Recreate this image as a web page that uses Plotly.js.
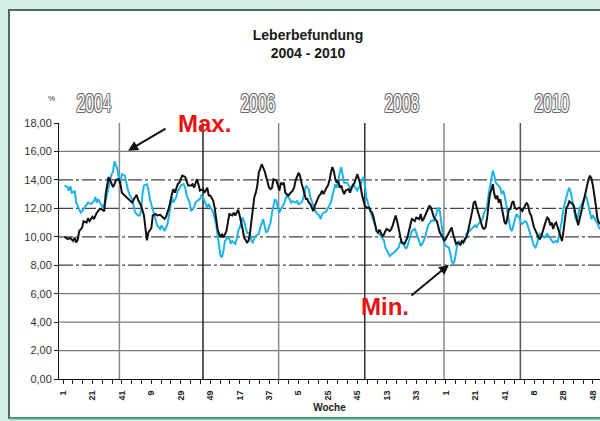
<!DOCTYPE html>
<html>
<head>
<meta charset="utf-8">
<script src="https://cdn.plot.ly/plotly-3.0.1.min.js"></script>
<style>
  html, body { margin: 0; padding: 0; overflow: hidden; background: #d3efe3; }
  #chart { width: 600px; height: 421px; }
</style>
</head>
<body>
<div id="chart"></div>
<script>
// ---- data (week index 0 = first week of 2004) ----
const tickPositions = [0,20,40,60,80,100,120,140,160,180,200,220,240,260,280,300,320,340,360];
const tickLabels = ["1","21","41","9","29","49","17","37","5","25","45","13","33","1","21","41","8","28","48"];
const yTicks = [0,2,4,6,8,10,12,14,16,18];

const blackWeeks = [1,3,5,7,8,9,10,11,13,14,16,17,18,20,21,23,25,26,28,29,31,32,34,35,36,38,39,40,42,43,45,47,48,50,51,53,55,56,57,58,60,61,63,64,66,68,69,70,72,74,75,76,78,79,80,81,83,84,85,87,88,89,91,92,93,95,96,98,99,100,102,103,104,105,106,107,108,109,111,112,113,115,116,117,119,120,121,122,123,125,126,127,128,129,130,131,132,133,134,135,137,138,139,140,141,142,143,145,146,147,148,149,150,151,153,154,156,157,158,160,161,162,163,164,165,166,167,168,169,170,171,173,174,175,176,177,178,179,180,181,182,183,184,185,186,187,188,189,190,191,192,194,195,196,198,199,200,201,202,203,204,205,206,208,209,210,211,212,213,214,215,217,218,219,220,222,223,224,225,226,227,228,229,230,232,233,234,235,236,237,238,239,240,242,243,244,245,246,247,249,250,251,252,254,255,256,258,259,260,261,263,264,265,266,267,268,270,271,272,273,274,275,276,277,278,279,280,281,282,283,284,285,286,287,288,289,290,291,292,293,294,295,296,297,298,299,300,301,302,303,304,305,306,307,308,310,311,312,314,315,316,317,318,319,320,322,323,324,325,326,327,328,329,330,331,332,333,334,335,336,337,338,339,340,341,342,343,344,345,347,348,349,350,351,352,353,354,355,356,357,358,359,360,361,362,363,364,365];
const blackValues = [10.0,9.85,9.9,9.7,9.95,9.6,9.8,10.4,10.65,11.1,11.0,11.3,11.1,11.4,11.25,11.7,11.95,11.95,11.8,13.0,14.2,14.0,13.5,13.7,14.0,14.05,13.7,13.1,12.9,12.8,12.65,12.4,12.6,12.95,12.6,12.2,11.5,10.65,9.75,10.3,10.6,11.5,11.6,11.5,11.55,11.35,11.25,11.4,12.05,13.0,13.35,13.1,13.7,13.8,14.05,14.3,14.2,13.8,13.6,13.6,13.7,13.45,14.05,13.7,13.25,13.35,13.1,13.45,12.9,12.9,12.55,12.05,11.25,10.55,10.2,9.95,10.2,9.95,10.4,11.0,11.6,11.5,11.7,11.5,11.9,11.5,11.1,10.55,9.95,9.6,9.7,10.2,11.1,11.8,12.8,13.1,13.6,14.5,14.9,15.1,14.6,14.2,13.8,13.45,13.35,13.45,14.05,13.95,13.6,13.25,13.8,13.7,13.8,13.1,12.9,13.0,13.25,13.45,13.95,14.5,14.3,13.8,13.45,13.0,12.65,12.65,12.4,12.3,12.05,11.8,12.15,12.65,12.9,13.0,13.25,13.0,13.25,13.45,13.6,13.95,14.5,14.9,14.6,14.05,13.8,13.95,13.45,13.6,13.25,13.0,13.25,13.35,13.1,13.45,13.8,14.2,14.4,14.05,13.7,13.0,12.55,12.2,12.05,12.05,11.8,11.7,11.35,10.8,10.4,10.3,10.5,10.05,10.15,10.4,10.55,10.4,10.55,10.8,11.25,11.5,11.1,10.55,10.05,9.6,9.5,9.7,9.95,10.4,10.9,11.25,11.2,11.1,11.35,11.25,11.6,11.1,11.25,11.5,11.8,12.2,12.05,11.7,11.35,11.1,10.65,10.3,9.95,9.7,9.85,10.05,10.4,10.65,10.2,9.85,9.5,9.6,9.45,9.7,9.6,9.85,9.95,10.3,10.8,11.1,11.8,12.4,12.5,12.05,11.7,11.35,10.9,10.65,10.55,10.65,11.25,12.1,13.0,13.3,13.7,13.0,12.65,12.9,12.4,12.65,12.05,11.5,11.0,10.9,11.6,11.95,11.95,12.4,12.5,12.05,11.95,12.05,11.95,11.8,12.2,12.4,12.2,11.7,11.5,11.1,10.65,10.2,9.95,9.85,10.05,10.4,10.8,11.1,11.35,11.25,10.8,11.0,10.55,10.9,11.0,10.65,10.4,10.1,9.7,10.4,11.5,12.05,12.2,12.5,12.4,12.2,11.7,11.1,10.8,11.25,11.7,12.3,12.7,13.1,13.6,14.05,14.3,14.1,13.6,13.0,12.2,11.3,11.0,10.9];

const cyanWeeks = [1,3,4,5,6,8,9,11,12,14,16,17,19,21,22,23,24,26,27,28,29,31,33,34,35,37,38,39,40,42,43,44,45,47,49,51,52,53,54,55,57,58,59,61,63,64,66,67,69,70,71,72,73,74,75,77,78,79,80,82,83,84,86,87,89,90,91,93,94,95,97,98,99,101,102,104,105,106,107,108,109,110,112,113,114,115,117,118,119,121,122,123,124,125,127,128,129,130,131,133,134,136,137,138,139,141,142,143,144,145,146,147,148,150,151,152,154,155,156,158,159,160,162,163,164,165,167,168,170,171,172,174,175,176,178,179,180,182,183,184,185,186,187,188,189,190,191,192,193,195,196,197,199,200,201,203,204,205,206,208,209,210,211,212,213,214,216,217,218,219,221,222,223,225,226,228,229,230,231,232,233,234,235,236,237,239,240,242,243,244,246,247,248,250,251,252,254,255,256,257,258,259,260,262,263,264,265,266,267,268,269,270,271,273,274,276,277,278,280,281,282,284,285,286,288,289,290,291,292,293,294,295,297,298,299,300,301,302,303,304,305,306,307,308,310,311,312,314,315,316,317,318,319,320,321,322,323,324,326,327,329,330,331,332,333,335,336,337,338,339,340,341,342,343,344,345,346,347,348,349,350,351,352,353,354,355,356,357,358,359,360,361,362,363,364,365];
const cyanValues = [13.6,13.5,13.25,13.55,13.1,13.2,12.4,11.95,11.7,11.95,12.3,12.4,12.3,12.5,12.8,12.4,12.65,12.2,12.05,12.3,12.5,13.5,14.4,14.6,15.3,14.75,14.05,13.8,14.4,14.3,13.7,13.35,13.0,12.65,11.7,11.5,11.5,11.8,13.0,13.6,13.7,13.35,12.65,11.95,11.25,10.8,10.55,10.8,10.4,10.65,10.9,11.5,12.3,12.8,12.4,12.8,13.25,13.35,13.6,13.7,13.45,12.9,12.4,11.8,12.05,12.4,12.5,12.65,12.9,12.8,12.3,12.05,12.3,11.95,11.7,10.9,10.05,9.5,8.65,8.55,9.0,9.7,9.95,9.85,9.5,9.7,9.5,9.85,10.4,10.9,11.35,11.1,10.75,10.3,10.2,9.7,9.6,9.95,10.05,10.2,10.65,11.25,10.75,10.3,10.4,11.0,11.7,12.2,12.65,12.5,11.95,11.7,11.95,12.3,12.65,12.9,12.65,12.4,12.5,12.4,12.5,12.3,12.4,12.65,13.1,13.6,13.35,12.8,12.2,11.95,11.7,11.5,11.25,11.6,11.7,11.8,12.05,12.4,12.9,13.25,13.7,13.45,14.05,14.5,14.9,14.2,13.8,13.8,13.8,13.45,13.35,13.7,13.45,13.25,13.45,13.95,14.2,13.7,12.8,12.05,11.7,11.35,11.1,10.9,10.4,10.3,10.05,9.95,9.75,9.25,8.8,8.65,8.75,8.9,9.0,9.25,9.6,9.7,9.5,9.25,9.15,9.35,9.7,10.2,10.4,10.55,10.3,9.7,9.35,9.5,9.95,10.4,10.8,11.1,11.15,11.1,11.7,12.05,11.8,10.9,10.2,9.6,9.35,9.25,8.9,8.3,8.1,8.3,9.0,9.5,9.7,9.5,9.6,9.7,10.2,10.4,10.55,10.65,10.8,10.65,10.9,11.1,11.25,11.7,12.05,12.9,13.45,14.1,14.65,14.3,13.8,13.7,13.45,13.0,13.25,12.9,12.3,11.7,11.1,10.55,10.4,10.75,11.1,11.6,11.35,11.0,10.9,11.1,11.0,10.65,10.4,10.05,9.7,9.35,9.25,9.5,9.95,10.2,10.05,9.95,10.2,10.05,9.85,9.7,9.6,9.7,9.6,10.1,10.6,11.2,12.0,12.5,12.8,13.2,13.45,13.1,12.65,12.05,11.35,11.1,11.5,12.05,12.2,12.4,12.65,12.9,12.65,12.2,11.6,11.25,11.5,11.35,11.1,11.0,10.65,10.55];

const yearLabels = ["2004","2006","2008","2010"];
const titleLines = ["Leberbefundung", "2004 - 2010"];

// ---- layout geometry / styling (not data) ----
const M = {l: 59, r: 0, t: 123, b: 42};
const W = 600, H = 421;
const plotW = W - M.l - M.r, plotH = H - M.t - M.b;
const px2paperX = px => (px - M.l) / plotW;
const px2paperY = py => (H - M.b - py) / plotH;

const yearLabelX = [21, 132.5, 230, 332];
const yearSepLines = [
  {x: 38.3, top: 18.45, color: '#8a8a8a'},
  {x: 95.1, top: 18, color: '#222222'},
  {x: 146.5, top: 18.45, color: '#8a8a8a'},
  {x: 205.0, top: 18.45, color: '#333333'},
  {x: 258.8, top: 18.45, color: '#8a8a8a'},
  {x: 310.7, top: 18.45, color: '#555555'}
];

const shapes = [];
// white chart panel with dark frame
shapes.push({type: 'rect', xref: 'paper', yref: 'paper', layer: 'below',
  x0: px2paperX(9), x1: px2paperX(640), y0: px2paperY(418), y1: px2paperY(10),
  fillcolor: '#ffffff', line: {color: '#4f6860', width: 2}});
// bottom greenish edge
shapes.push({type: 'line', xref: 'paper', yref: 'paper', layer: 'below',
  x0: px2paperX(9), x1: px2paperX(640), y0: px2paperY(418.5), y1: px2paperY(418.5),
  line: {color: '#5aa889', width: 2}});
// horizontal gridlines
yTicks.filter(v => v > 0 && v < 18).forEach(v => {
  const dashed = (v >= 8 && v <= 14);
  shapes.push({type: 'line', xref: 'paper', yref: 'y', layer: 'below',
    x0: 0, x1: 1, y0: v, y1: v,
    line: {color: dashed ? '#444444' : '#7a7a7a', width: 1.3, dash: dashed ? '14px,3px,3px,3px' : 'solid'}});
});
// vertical year separator lines
yearSepLines.forEach(s => {
  shapes.push({type: 'line', xref: 'x', yref: 'y', layer: 'below',
    x0: s.x, x1: s.x, y0: 0, y1: s.top, line: {color: s.color, width: 1.5}});
});

const outline = '1px 0 0 #666, -1px 0 0 #666, 0 1px 0 #666, 0 -1px 0 #666, 1px 1px 0 #888, -1px -1px 0 #888, 1px -1px 0 #888, -1px 1px 0 #888';
const annotations = [];
yearLabels.forEach((t, i) => {
  annotations.push({text: t, x: yearLabelX[i], y: px2paperY(103), xref: 'x', yref: 'paper', showarrow: false,
    xanchor: 'center', yanchor: 'middle',
    font: {family: 'Liberation Sans, Arial, sans-serif', size: 26, color: '#ffffff', shadow: outline}});
});
annotations.push({text: '%', xref: 'paper', yref: 'paper', x: px2paperX(46), y: px2paperY(92),
  showarrow: false, font: {family: 'Liberation Sans, Arial, sans-serif', size: 8, color: '#333'}});
// Max / Min labels and arrows
annotations.push({text: '<b>Max.</b>', xref: 'x', yref: 'y', x: 95.8, y: 17.95, showarrow: false,
  xanchor: 'center', yanchor: 'middle', font: {family: 'Liberation Sans, Arial, sans-serif', size: 24, color: '#e81212'}});
annotations.push({text: '', xref: 'x', yref: 'y', x: 44.2, y: 16.05, axref: 'x', ayref: 'y', ax: 70.7, ay: 17.67,
  showarrow: true, arrowhead: 2, arrowsize: 1, arrowwidth: 2, arrowcolor: '#111'});
annotations.push({text: '<b>Min.</b>', xref: 'x', yref: 'y', x: 218.8, y: 5.08, showarrow: false,
  xanchor: 'center', yanchor: 'middle', font: {family: 'Liberation Sans, Arial, sans-serif', size: 24, color: '#e81212'}});
annotations.push({text: '', xref: 'x', yref: 'y', x: 262.2, y: 8.04, axref: 'x', ayref: 'y', ax: 235.7, ay: 5.79,
  showarrow: true, arrowhead: 2, arrowsize: 1, arrowwidth: 2, arrowcolor: '#111'});

const traces = [
  {x: cyanWeeks, y: cyanValues, type: 'scatter', mode: 'lines', name: 'Serie 2',
   line: {color: '#1db4e9', width: 2}, hoverinfo: 'skip'},
  {x: blackWeeks, y: blackValues, type: 'scatter', mode: 'lines', name: 'Serie 1',
   line: {color: '#111111', width: 2}, hoverinfo: 'skip'}
];

const layout = {
  width: W, height: H,
  margin: M,
  paper_bgcolor: '#d3efe3',
  plot_bgcolor: 'rgba(0,0,0,0)',
  showlegend: false,
  separators: ',.',
  font: {family: 'Liberation Sans, Arial, sans-serif', color: '#222'},
  title: {text: '<b>' + titleLines.join('<br>') + '</b>', xref: 'container', yref: 'container',
    x: 308 / W, xanchor: 'center', y: 1 - 40 / H, yanchor: 'top',
    font: {family: 'Liberation Sans, Arial, sans-serif', size: 14, color: '#1a1a1a'}},
  xaxis: {
    range: [-2.72, (W - M.r - M.l - 4) / 1.472],
    tickmode: 'array', tickvals: tickPositions, ticktext: tickLabels,
    tickangle: -90, ticks: 'outside', ticklen: 4, tickcolor: '#222', tickwidth: 1,
    ticklabelstandoff: 3,
    minor: {tickmode: 'linear', tick0: 0, dtick: 20 / 3, ticks: 'outside', ticklen: 4, tickcolor: '#222', showgrid: false},
    tickfont: {family: 'Liberation Sans, Arial, sans-serif', size: 9, color: '#222', weight: 'bold'},
    showgrid: false, zeroline: false, showline: true, linecolor: '#111', linewidth: 1,
    title: {text: '<b>Woche</b>', standoff: 4, font: {size: 10, color: '#222'}}
  },
  yaxis: {
    range: [0, 18], tickmode: 'array', tickvals: yTicks, tickformat: '.2f',
    ticks: 'outside', ticklen: 4, tickcolor: '#222',
    tickfont: {family: 'Liberation Sans, Arial, sans-serif', size: 11, color: '#333'},
    showgrid: false, zeroline: false, showline: true, linecolor: '#111', linewidth: 1
  },
  shapes: shapes,
  annotations: annotations
};

Plotly.newPlot('chart', traces, layout, {staticPlot: true, displayModeBar: false}).then(gd => {
  // the year labels in the original use a very narrow typeface: squeeze them horizontally
  gd.querySelectorAll('g.annotation').forEach(g => {
    const idx = +g.getAttribute('data-index');
    if (idx < yearLabels.length) {
      const t = g.querySelector('text');
      if (t) {
        t.style.transformBox = 'fill-box';
        t.style.transformOrigin = 'center';
        t.style.transform = 'scaleX(0.6)';
      }
    }
  });
});
</script>
</body>
</html>
